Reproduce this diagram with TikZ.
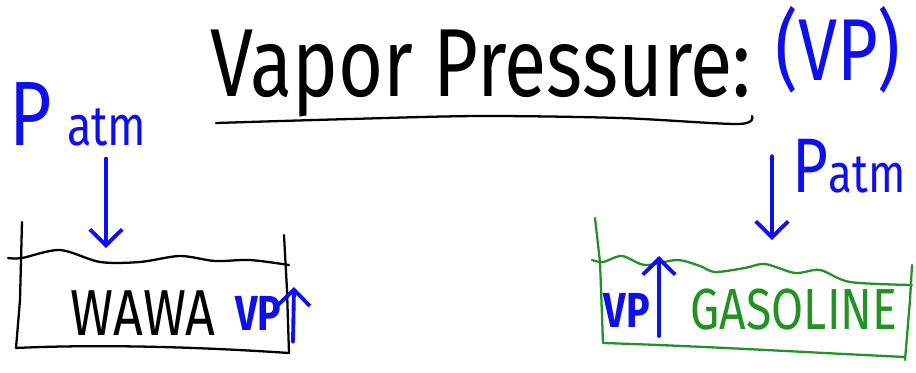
\documentclass[tikz,border=0pt]{standalone}
\usepackage{fontspec}
\setmainfont{Fira Sans}
\newfontfamily\hand{Fira Sans}[FakeStretch=0.8]
\usetikzlibrary{arrows.meta,positioning}
\definecolor{penblue}{RGB}{15, 15, 235}
\definecolor{pengreen}{RGB}{35, 145, 35}
\tikzset{
    ink/.style={draw, black, line width=1.3pt, line cap=round, line join=round},
    greenink/.style={draw, pengreen, line width=1.3pt, line cap=round, line join=round},
    push/.style={draw, penblue, line width=2.2pt, line cap=round,
                 -{Straight Barb[length=3.2mm, width=6.5mm, line width=2.2pt]}},
    word/.style={inner sep=0pt, font=\hand},
    blueword/.style={word, text=penblue, font=\hand},
}

\begin{document}
\begin{tikzpicture}[x=0.02cm, y=-0.02cm]
        \useasboundingbox (0,0) rectangle (916,372);

        % Title
        \node [word, font=\hand\fontsize{55}{55}\selectfont] (title) at (481,74) {Vapor Pressure:};
        \node [blueword, font=\hand\fontsize{50}{50}\selectfont] (vptag) at (838,50) {(VP)};
        \draw [ink] plot [smooth] coordinates {(216,123) (350,119) (480,116) (620,118) (738,124) (752,116)};

        % Water side
        \node [blueword] (patmL) at (78,114) {{\fontsize{52}{52}\selectfont P\,}{\fontsize{32}{32}\selectfont atm}};
        \node [word, font=\hand\fontsize{37}{37}\selectfont] (wawa) at (143,313) {WAWA};
        \node [blueword, font=\hand\bfseries\fontsize{28}{28}\selectfont, right=0.38cm of wawa] (vpL) {VP};
        \draw [ink] (22,222) -- (20,300) -- (16,348);
        \draw [ink] (16,348) .. controls (100,344) and (200,347) .. (289,353);
        \draw [ink] (284,235) -- (287,290) -- (289,353);
        \draw [ink] plot [smooth] coordinates {(8,258) (22,258) (60,250) (100,262) (140,262) (180,256) (215,261) (250,260) (289,265)};
        \coordinate (hitL) at (106,248);
        \coordinate (baseL) at (293,342);
        \coordinate (topL) at (294,287);
        \draw [push] ([yshift=-0.25cm]hitL |- patmL.south) -- (hitL);
        \draw [push] (baseL) -- (topL);

        % Gasoline side
        \node [blueword] (patmR) at (849,166) {{\fontsize{44}{44}\selectfont P}{\fontsize{31}{31}\selectfont atm}};
        \node [blueword, font=\hand\bfseries\fontsize{28}{28}\selectfont] (vpR) at (627,310) {VP};
        \node [word, text=pengreen, font=\hand\fontsize{33}{33}\selectfont, right=0.8cm of vpR] (gas) {GASOLINE};
        \draw [greenink] (595,218) -- (600,262) -- (603,343);
        \draw [greenink] (603,343) .. controls (700,346) and (800,352) .. (905,357);
        \draw [greenink] (912,265) -- (910,300) -- (905,360);
        \draw [greenink] plot [smooth] coordinates {(592,260) (603,262) (622,256) (645,265) (677,260) (700,266) (715,272) (745,268) (765,264) (795,273) (820,270) (850,282) (912,285)};
        \coordinate (hitR) at (772,240);
        \coordinate (baseR) at (659,336);
        \coordinate (topR) at (659,256);
        \draw [push] ([yshift=-0.35cm]hitR |- patmR.north) -- (hitR);
        \draw [push] (baseR) -- (topR);
    \end{tikzpicture}
\end{document}
